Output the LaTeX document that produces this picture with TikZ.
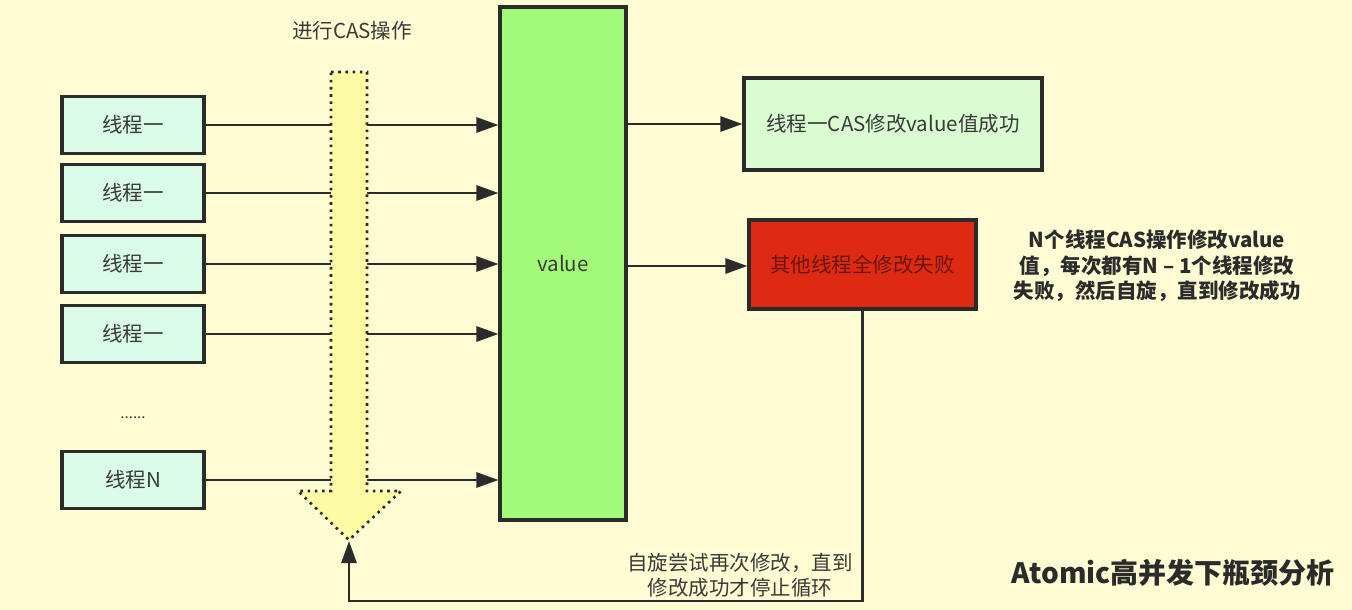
\documentclass[tikz,border=0pt]{standalone}
\usepackage{fontspec}
\setmainfont{Noto Sans CJK SC}
\usetikzlibrary{arrows.meta}
\definecolor{bg}{HTML}{FEFCD3}
\definecolor{thr}{HTML}{D9FBE8}
\definecolor{valc}{HTML}{A2FA78}
\definecolor{okc}{HTML}{DAFCD2}
\definecolor{redc}{HTML}{DE2A12}
\definecolor{arrc}{HTML}{FDFCA4}
\definecolor{ln}{HTML}{2B2B2B}
\definecolor{txt}{HTML}{3A3A3A}
\definecolor{redtxt}{HTML}{6A160C}
\tikzset{
  box/.style={draw=ln, line width=3.1pt, inner sep=0pt, text=txt, font=\fontsize{20.5}{24}\selectfont},
  thread/.style={box, fill=thr, minimum width=142pt, minimum height=57pt},
  conn/.style={draw=ln, line width=2.8pt},
  arr/.style={conn, -{Triangle[length=22pt,width=15pt]}},
  plain/.style={text=txt, font=\fontsize{20.5}{24}\selectfont, align=center, inner sep=0pt},
  note/.style={text=ln, font=\bfseries\fontsize{20.5}{25.5}\selectfont, align=center, inner sep=0pt},
}
\begin{document}
\begin{tikzpicture}[x=1pt,y=-1pt]
\fill[bg] (0,0) rectangle (1352,610);
\useasboundingbox (0,0) rectangle (1352,610);
% threads
\node[thread] (t1) at (133,125) {线程一};
\node[thread] (t2) at (133,193) {线程一};
\node[thread] (t3) at (133,264) {线程一};
\node[thread] (t4) at (133,334) {线程一};
\node[thread] (tn) at (133,480) {线程N};
\node[plain, font=\fontsize{15}{18}\selectfont] (dots) at (133,418) {......};
% value
\node[box, fill=valc, minimum width=126pt, minimum height=513pt] (val) at (563,263.5) {value};
% results
\node[box, fill=okc, minimum width=298pt, minimum height=92pt] (ok) at (893,124) {线程一CAS修改value值成功};
\node[box, fill=redc, text=redtxt, minimum width=227pt, minimum height=89pt] (fail) at (862.5,264.5) {其他线程全修改失败};
% connectors thread -> value
\foreach \t in {t1,t2,t3,t4,tn}{
  \draw[arr] (\t.east) -- (\t.east -| val.west);
}
\draw[arr] (ok.west -| val.east) -- (ok.west);
\draw[arr] (val.east |- 0,266) -- (fail.west |- 0,266);
% big CAS arrow
\filldraw[fill=arrc, draw=ln, line width=2.6pt, dash pattern=on 2.6pt off 4.6pt]
  (331,72) -- (367,72) -- (367,491) -- (401,491) -- (349,540) -- (298,491) -- (331,491) -- cycle;
\coordinate (tip) at (349,541);
\node[plain] (caslbl) at (352,31) {进行CAS操作};
% loop back
\coordinate (corner) at (349,601);
\draw[arr] (fail.south) |- (corner) -- (tip);
\node[plain, align=center] (looplbl) at (740,575) {自旋尝试再次修改，直到\\[1pt]修改成功才停止循环};
% note
\node[note] (nt) at (1157,266) {N个线程CAS操作修改value\\值，每次都有N – 1个线程修改\\失败，然后自旋，直到修改成功};
\node[note, font=\bfseries\fontsize{28}{32}\selectfont] (title) at (1173,573) {Atomic高并发下瓶颈分析};
\end{tikzpicture}
\end{document}
